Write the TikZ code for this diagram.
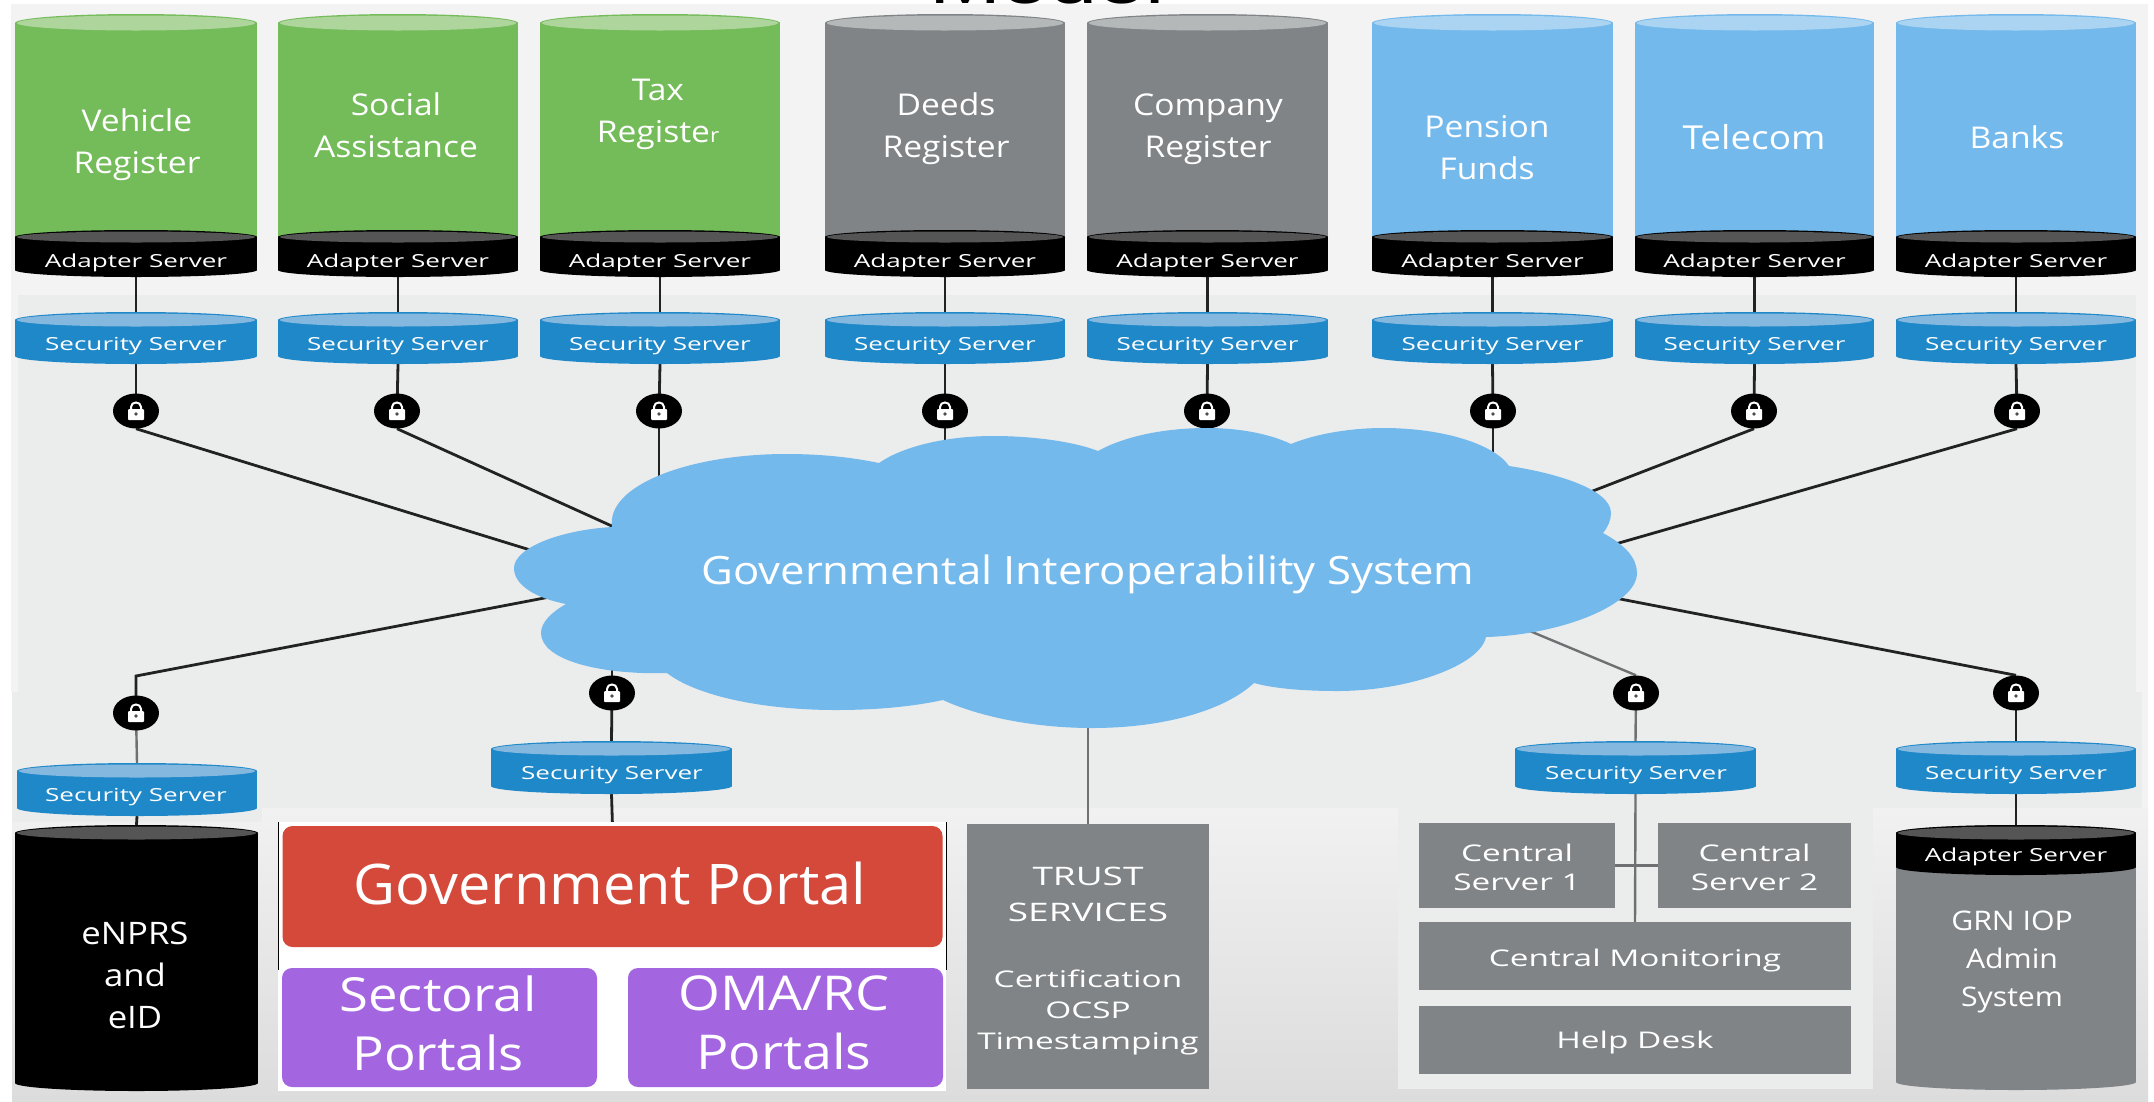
\documentclass[tikz,border=0pt]{standalone}
\usepackage{fontspec}
\setmainfont[FakeStretch=1.12]{Open Sans}
\newfontfamily\widefont[FakeStretch=1.45]{Open Sans}
\newfontfamily\govfont[FakeStretch=1.03]{Open Sans}
\newfontfamily\titlefont[FakeStretch=1.35]{Liberation Sans}
\usetikzlibrary{shapes.geometric}
\pgfdeclarelayer{back}\pgfdeclarelayer{links}
\pgfsetlayers{back,links,main}
\definecolor{cgreen}{HTML}{74BB5A}\definecolor{cgreent}{HTML}{AED69C}
\definecolor{cgray}{HTML}{808487}\definecolor{cgrayt}{HTML}{B4B8B8}
\definecolor{cblue}{HTML}{74B9EC}\definecolor{cbluet}{HTML}{ABD4F2}
\definecolor{csec}{HTML}{1F88C9}\definecolor{csect}{HTML}{85B8DF}
\definecolor{cadt}{HTML}{555555}
\definecolor{cred}{HTML}{D5493A}\definecolor{cpurple}{HTML}{A465E0}
\definecolor{cpanel}{HTML}{EBECEC}\definecolor{cpage}{HTML}{F3F3F3}
\definecolor{cline}{HTML}{222222}\definecolor{cglin}{HTML}{6E7072}
\definecolor{cshtop}{HTML}{F1F1F1}\definecolor{cshbot}{HTML}{DCDCDC}
\tikzset{
  txt/.style={text=white,align=center,inner sep=0pt},
  sz/.style={font=\fontsize{#1}{42}\selectfont},
  small/.style={text=white,align=center,inner sep=0pt,font=\widefont\fontsize{18}{22}\selectfont},
  box/.style={fill=cgray,inner sep=0pt,text=white,align=center},
  boxtxt/.style={text=white,align=center,inner sep=0pt,font=\widefont\fontsize{23}{29}\selectfont},
  portal/.style={rounded corners=10pt,inner sep=0pt,text=white,align=center},
  link/.style={draw=cline,line width=2.8pt},
  glink/.style={draw=cglin,line width=2.4pt},
  lockbody/.style={ellipse,fill=black,inner sep=0pt,minimum width=46pt,minimum height=35pt}
}
% name, x1, x2, y of top ellipse centre, y of bottom ellipse centre, body, top colour, ry
\newcommand\cyl[8]{%
  \pgfmathsetmacro\cxa{(#2+#3)/2}\pgfmathsetmacro\rxa{(#3-#2)/2}%
  \pgfmathsetmacro\cya{(#4+#5)/2}\pgfmathsetmacro\wa{#3-#2}\pgfmathsetmacro\ha{#5-#4+2*#8}%
  \fill[#6] (\cxa,#5) ellipse [x radius=\rxa pt,y radius=#8 pt];
  \fill[#6] (#2,#4) rectangle (#3,#5);
  \fill[#6] (\cxa,#4) ellipse [x radius=\rxa pt,y radius=#8 pt];
  \fill[#7] (\cxa,#4) ellipse [x radius=\rxa pt-2pt,y radius=#8 pt-1.5pt];
  \node[inner sep=0pt,minimum width=\wa pt,minimum height=\ha pt] (#1) at (\cxa,\cya) {};
}
\newcommand\lockn[3]{%
  \node[lockbody] (#1) at (#2,#3) {};
  \draw[white,line width=2pt] (#2-5,#3-1) -- (#2-5,#3-4) .. controls (#2-5,#3-10) and (#2+5,#3-10) .. (#2+5,#3-4) -- (#2+5,#3-1);
  \fill[white,rounded corners=1pt] (#2-8,#3-2) rectangle (#2+8,#3+9);
  \fill[black!70] (#2,#3+3) circle (1.8pt);
}
\begin{document}
\begin{tikzpicture}[x=1pt,y=-1pt]
\useasboundingbox (0,0) rectangle (2154,1101);
\begin{pgfonlayer}{back}
  \fill[white] (0,0) rectangle (2154,1101);
  \fill[cpage] (11,4) rectangle (2148,300);
  \fill[cpage] (2130,295) rectangle (2148,812);
  \fill[cpage] (11,295) rectangle (18,692);
  \fill[cpanel] (18,295) rectangle (2136,692);
  \fill[cpanel] (12,692) rectangle (2142,808);
  \shade[top color=cshtop,bottom color=cshbot] (12,808) rectangle (2148,1101);
  \fill[cpanel] (12,808) rectangle (262,822);
  \fill[cpanel] (1398,807) rectangle (1873,1089);
\end{pgfonlayer}
\begin{scope}
  \clip (900,0) rectangle (1200,4);
  \node[anchor=base,inner sep=0pt,font=\titlefont\fontsize{64}{70}\selectfont,text=black] (title) at (1047,3) {Model};
\end{scope}
% top row
\foreach \n/\xa/\xb/\cb/\ct/\lab/\tx/\ty in {
  1/15/257/cgreen/cgreent/{Vehicle\\Register}/137/145,
  2/278/518/cgreen/cgreent/{Social\\Assistance}/396/125,
  3/540/780/cgreen/cgreent/{Tax\\Registe{\fontsize{20}{20}\selectfont r}}/658/114,
  4/825/1065/cgray/cgrayt/{Deeds\\Register}/946/129,
  5/1087/1328/cgray/cgrayt/{Company\\Register}/1208/129,
  6/1372/1613/cblue/cbluet/{Pension\\Funds}/1487/148,
  7/1635/1874/cblue/cbluet/{{\fontsize{33}{42}\selectfont Telecom}}/1754/137,
  8/1896/2136/cblue/cbluet/{Banks}/2017/137}{
  \cyl{db\n}{\xa}{\xb}{23}{240}{\cb}{\ct}{9}
  \cyl{ad\n}{\xa}{\xb}{237}{270}{black}{cadt}{7}
  \cyl{ss\n}{\xa}{\xb}{320}{356}{csec}{csect}{8}
  \node[txt,sz=30] (dbt\n) at (\tx,\ty) {\lab};
  \node[small] (adt\n) at (\xa/2+\xb/2,263) {Adapter Server};
  \node[small] (sst\n) at (\xa/2+\xb/2,346) {Security Server};
}
% locks top
\lockn{l1}{136}{411}\lockn{l2}{397}{411}\lockn{l3}{659}{411}\lockn{l4}{945}{411}
\lockn{l5}{1207}{411}\lockn{l6}{1493}{411}\lockn{l7}{1754}{411}\lockn{l8}{2017}{411}
% cloud
\fill[cblue] (612,527) .. controls (606,485) and (690,454) .. (786,454)
  .. controls (825,454) and (855,458) .. (879,463)
  .. controls (905,445) and (950,436) .. (993,436)
  .. controls (1035,436) and (1075,442) .. (1098,451)
  .. controls (1125,436) and (1165,428) .. (1207,428)
  .. controls (1240,428) and (1270,434) .. (1291,444)
  .. controls (1315,434) and (1350,428) .. (1383,428)
  .. controls (1445,428) and (1495,445) .. (1509,466)
  .. controls (1550,472) and (1611,488) .. (1611,513)
  .. controls (1611,520) and (1608,527) .. (1603,533)
  .. controls (1625,545) and (1637,558) .. (1637,573)
  .. controls (1637,605) and (1560,635) .. (1486,637)
  .. controls (1480,665) and (1410,691) .. (1337,691)
  .. controls (1300,691) and (1272,688) .. (1254,683)
  .. controls (1225,710) and (1165,728) .. (1092,728)
  .. controls (1030,728) and (975,715) .. (943,700)
  .. controls (915,706) and (880,710) .. (836,710)
  .. controls (760,710) and (695,695) .. (667,673)
  .. controls (600,675) and (541,660) .. (541,633)
  .. controls (541,622) and (552,612) .. (566,604)
  .. controls (535,598) and (514,585) .. (514,568)
  .. controls (514,548) and (560,530) .. (612,527) -- cycle;
\node[txt,sz=39] (cloud) at (1088,574) {Governmental Interoperability System};
% bottom left
\cyl{ssa}{17}{257}{771}{808}{csec}{csect}{8}
\node[small] (ssat) at (136,797) {Security Server};
\lockn{la}{136}{713}
\cyl{enprs}{15}{258}{833}{1083}{black}{cadt}{8}
\node[txt,sz=31] (enprst) at (135,975) {eNPRS\\and\\eID};
% portals
\fill[white] (278,822) rectangle (946,1091);
\draw[black,line width=1pt] (278,822) -- (278,970) (946,822) -- (946,970);
\cyl{ssb}{491}{732}{749}{786}{csec}{csect}{8}
\node[small] (ssbt) at (612,775) {Security Server};
\lockn{lb}{612}{693}
\node[portal,fill=cred,minimum width=660pt,minimum height=121pt] (gov) at (612.5,886.5) {};
\node[txt,font=\govfont\fontsize{56}{60}\selectfont] (govt) at (610,883) {Government Portal};
\node[portal,fill=cpurple,minimum width=315pt,minimum height=119pt] (sect) at (439.5,1027.5) {};
\node[txt,font=\fontsize{47}{59}\selectfont] (sectt) at (438,1023) {Sectoral\\Portals};
\node[portal,fill=cpurple,minimum width=315pt,minimum height=119pt] (oma) at (785.5,1027.5) {};
\node[txt,font=\fontsize{48}{59}\selectfont] (omat) at (784,1023) {OMA/RC\\Portals};
% trust
\node[box,minimum width=242pt,minimum height=265pt] (trust) at (1088,956.5) {};
\node[txt,font=\widefont\fontsize{25.5}{36}\selectfont] (trust1) at (1088,894) {TRUST\\SERVICES};
\node[boxtxt,font=\widefont\fontsize{23}{31}\selectfont] (trust2) at (1088,1012) {Certification\\OCSP\\Timestamping};
% central
\cyl{ssc}{1515}{1756}{749}{786}{csec}{csect}{8}
\node[small] (ssct) at (1636,775) {Security Server};
\lockn{lc}{1636}{693}
\node[box,minimum width=196pt,minimum height=85pt] (cs1) at (1517,865.5) {};
\node[boxtxt] (cs1t) at (1517,867) {Central\\Server 1};
\node[box,minimum width=193pt,minimum height=85pt] (cs2) at (1754.5,865.5) {};
\node[boxtxt] (cs2t) at (1754.5,867) {Central\\Server 2};
\node[box,minimum width=432pt,minimum height=68pt] (mon) at (1635,956) {};
\node[boxtxt] (mont) at (1635,961) {Central Monitoring};
\node[box,minimum width=432pt,minimum height=68pt] (help) at (1635,1040) {};
\node[boxtxt] (helpt) at (1635,1043) {Help Desk};
% GRN
\cyl{ssd}{1896}{2136}{749}{786}{csec}{csect}{8}
\node[small] (ssdt) at (2016,775) {Security Server};
\lockn{ld}{2016}{693}
\cyl{grn}{1896}{2136}{833}{1082}{cgray}{cgray}{8}
\cyl{grna}{1896}{2136}{833}{867}{black}{cadt}{8}
\node[small] (grnat) at (2016,857) {Adapter Server};
\node[txt,font=\fontsize{27}{38}\selectfont] (grnt) at (2012,962) {GRN IOP\\Admin\\System};
% cloud contact points
\coordinate (c1) at (540,553);
\coordinate (c2) at (625,532);
\coordinate (c3) at (659,500);
\coordinate (c4) at (945,470);
\coordinate (c5) at (1207,450);
\coordinate (c6) at (1493,470);
\coordinate (c7) at (1585,494);
\coordinate (c8) at (1605,547);
\coordinate (ca) at (560,595);
\coordinate (elbow) at (136,676);
\coordinate (cb) at (612,650);
\coordinate (cc) at (1525,629);
\coordinate (cd) at (1615,598);
\coordinate (ct) at (1088,700);
\begin{pgfonlayer}{links}
  \foreach \n/\an in {1/south,2/south,3/center,4/center,5/center,6/center,7/south,8/south}{
    \draw[link] (ad\n.south) -- (ss\n.north);
    \draw[link] (ss\n.south) -- (l\n.center);
    \draw[link] (l\n.\an) -- (c\n);
  }
  \draw[link] (ca) -- (elbow) -- (la.center);
  \draw[glink] (la.center) -- (ssa.north);
  \draw[link] (ssa.south) -- (enprs.north);
  \draw[link] (cb) -- (lb.center);
  \draw[link] (lb.center) -- (ssb.north);
  \draw[link] (ssb.south) -- (gov.north);
  \draw[glink] (ct) -- (trust.north);
  \draw[glink] (cc) -- (lc.north);
  \draw[glink] (lc.center) -- (ssc.north);
  \draw[glink] (ssc.south) -- (mon.north);
  \draw[glink] (cs1.east) -- (cs2.west);
  \draw[link] (cd) -- (ld.north);
  \draw[link] (ld.center) -- (ssd.north);
  \draw[link] (ssd.south) -- (grna.north);
\end{pgfonlayer}
\end{tikzpicture}
\end{document}
